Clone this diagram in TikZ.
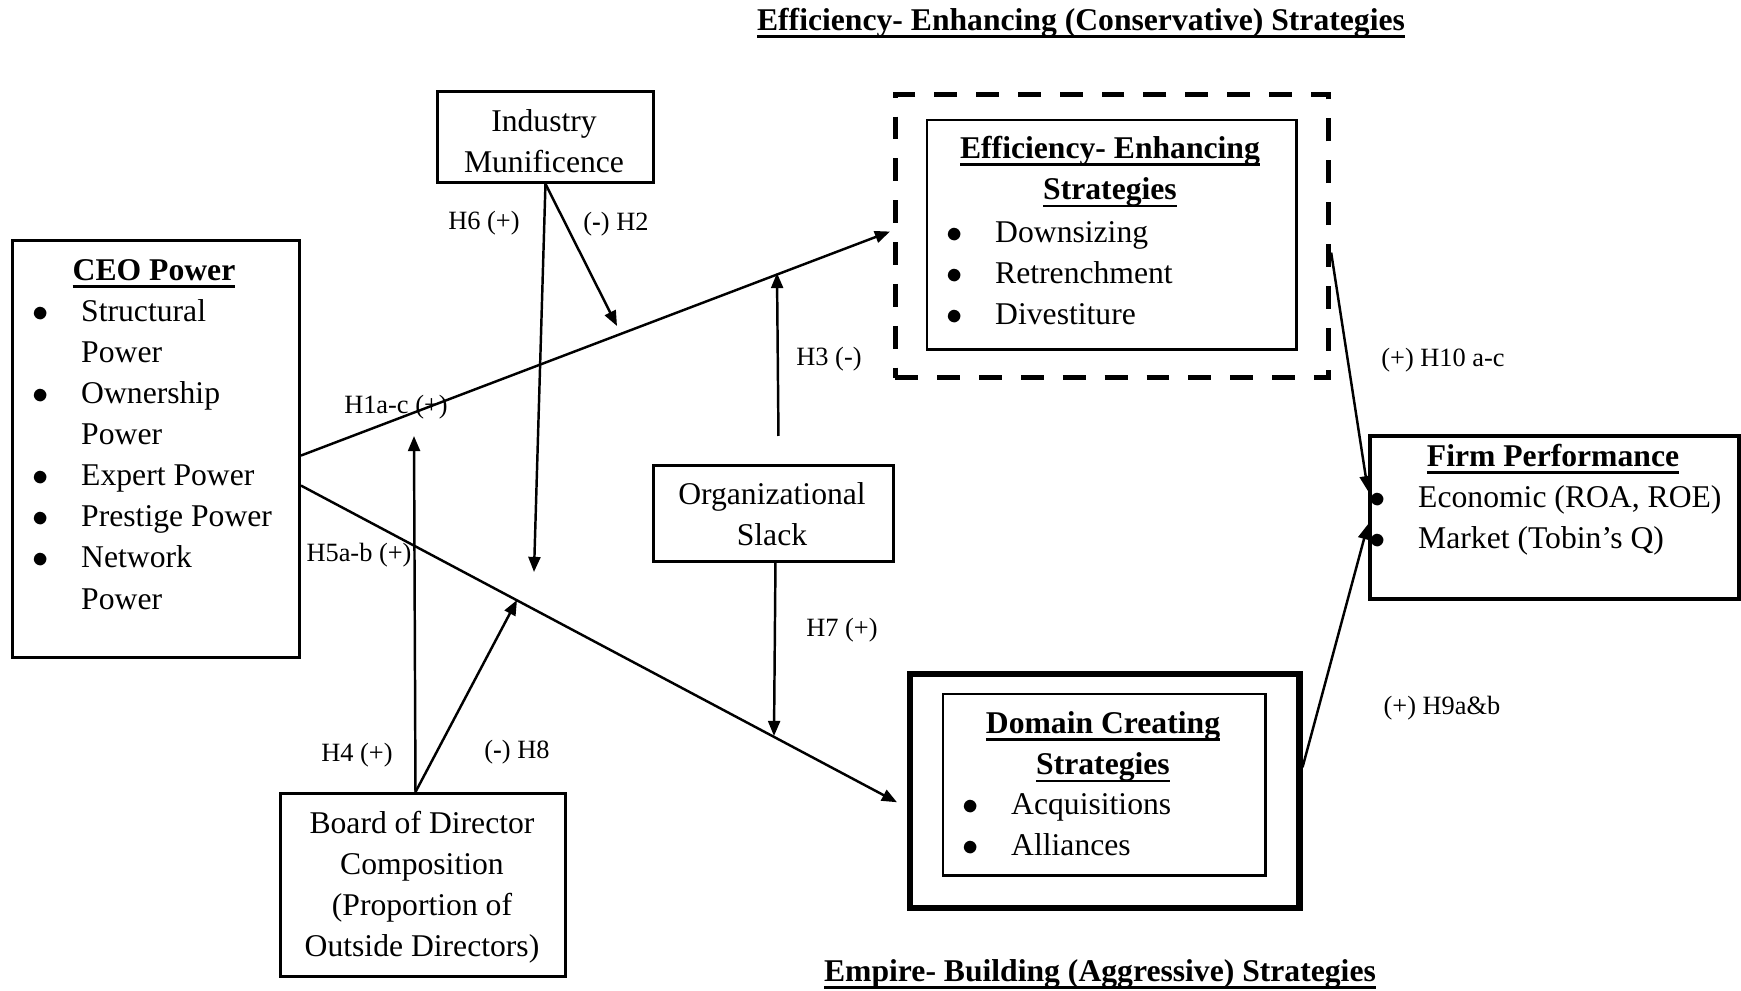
\documentclass[tikz,border=0pt]{standalone}
\usepackage{fontspec}
\setmainfont{Liberation Serif}
\usetikzlibrary{arrows.meta}

\newsavebox\hdbox
\newcommand{\hd}[1]{\sbox\hdbox{\textbf{#1}}\rlap{\usebox\hdbox}\rule[-2.2pt]{\wd\hdbox}{0.65pt}}
\newcommand{\bul}{\makebox[0.485cm][l]{$\bullet$}}
\newcommand{\indt}{\hspace*{0.485cm}}

\begin{document}
\begin{tikzpicture}[x=0.01cm, y=-0.01cm,
    block/.style={draw, line width=0.8pt, inner sep=0pt, anchor=north west},
    txt/.style={inner sep=0pt, font=\fontsize{9}{11.7}\selectfont},
    lbl/.style={inner sep=0pt, font=\fontsize{7.5}{9}\selectfont},
    arr/.style={line width=0.7pt, -{Triangle[length=4.3pt, width=3.4pt]}}]

            \useasboundingbox (0,0) rectangle (1741,990);

            \node[block, minimum width=2.87cm, minimum height=4.17cm] (ceo) at (11,239) {};
            \node[block, minimum width=2.16cm, minimum height=0.91cm] (ind) at (436,90) {};
            \node[block, minimum width=2.40cm, minimum height=0.96cm] (org) at (652,464) {};
            \node[block, minimum width=2.85cm, minimum height=1.83cm] (board) at (279,792) {};
            \node[block, line width=1.4pt, dash pattern=on 6.5pt off 5.4pt,
                  minimum width=4.33cm, minimum height=2.83cm] (effout) at (893,92) {};
            \node[block, line width=0.7pt, minimum width=3.69cm, minimum height=2.29cm] (effin) at (926,119) {};
            \node[block, line width=1.8pt, minimum width=3.89cm, minimum height=2.34cm] (domout) at (907,671) {};
            \node[block, line width=0.7pt, minimum width=3.22cm, minimum height=1.81cm] (domin) at (942,693) {};
            \node[block, line width=1.2pt, minimum width=3.69cm, minimum height=1.63cm] (firm) at (1368,434) {};

            \node[txt, anchor=base] (toptitle) at (1081,30) {\hd{Efficiency- Enhancing (Conservative) Strategies}};
            \node[txt, anchor=base] (bottitle) at (1100,981) {\hd{Empire- Building (Aggressive) Strategies}};

            \node[txt, anchor=base] (ceohd) at (154,280) {\hd{CEO Power}};
            \node[txt, anchor=base west] (ceolist) at (32,321) {\begin{tabular}[t]{@{}l@{}}
                \bul Structural\\ \indt Power\\ \bul Ownership\\ \indt Power\\
                \bul Expert Power\\ \bul Prestige Power\\ \bul Network\\ \indt Power\end{tabular}};
            \node[txt, anchor=base] (indtxt) at (544,131) {\begin{tabular}[t]{@{}c@{}}Industry\\ Munificence\end{tabular}};
            \node[txt, anchor=base] (orgtxt) at (772,504) {\begin{tabular}[t]{@{}c@{}}Organizational\\ Slack\end{tabular}};
            \node[txt, anchor=base] (boardtxt) at (422,833) {\begin{tabular}[t]{@{}c@{}}Board of Director\\ Composition\\
                (Proportion of\\ Outside Directors)\end{tabular}};
            \node[txt, anchor=base] (effhd) at (1110,158) {\begin{tabular}[t]{@{}c@{}}\hd{Efficiency- Enhancing}\\ \hd{Strategies}\end{tabular}};
            \node[txt, anchor=base west] (efflist) at (946,242) {\begin{tabular}[t]{@{}l@{}}
                \bul Downsizing\\ \bul Retrenchment\\ \bul Divestiture\end{tabular}};
            \node[txt, anchor=base] (domhd) at (1103,733) {\begin{tabular}[t]{@{}c@{}}\hd{Domain Creating}\\ \hd{Strategies}\end{tabular}};
            \node[txt, anchor=base west] (domlist) at (962,814) {\begin{tabular}[t]{@{}l@{}}
                \bul Acquisitions\\ \bul Alliances\end{tabular}};
            \node[txt, anchor=base] (firmhd) at (1553,466) {\hd{Firm Performance}};
            \node[txt, anchor=base west] (firmlist) at (1369,507) {\begin{tabular}[t]{@{}l@{}}
                \bul Economic (ROA, ROE)\\ \bul Market (Tobin’s Q)\end{tabular}};

            \coordinate (p2) at (617,326);
            \coordinate (p6) at (534,572);
            \coordinate (p4) at (414,436);
            \coordinate (p8) at (517,600);
            \coordinate (p3) at (777,273);
            \coordinate (p7) at (774,736);

            \draw[arr] ([yshift=-0.065cm]ceo.east) -- ([xshift=-0.03cm,yshift=0.045cm]effout.west);
            \draw[arr] ([yshift=-0.365cm]ceo.east) -- ([xshift=-0.1cm,yshift=-0.11cm]domout.west);
            \foreach \p in {p2,p6}{
                \draw[arr] (ind.south) -- (\p);
            }
            \foreach \p in {p4,p8}{
                \draw[arr] ([xshift=-0.075cm]board.north) -- (\p);
            }
            \draw[arr] ([xshift=0.05cm,yshift=0.28cm]org.north) -- (p3);
            \draw[arr] ([xshift=0.02cm]org.south) -- (p7);
            \draw[arr] ([yshift=-0.165cm]effout.east) -- ([yshift=0.265cm]firm.west);
            \draw[arr] ([yshift=0.24cm]domout.east) -- ([yshift=-0.065cm]firm.west);

            \node[lbl] (l6) at (484,223) {H6 (+)};
            \node[lbl] (l2) at (616,224) {(\textbf{-}) H2};
            \node[lbl] (l1) at (396,407) {H1a-c (+)};
            \node[lbl] (l3) at (829,359) {H3 (-)};
            \node[lbl] (l10) at (1443,360) {(+) H10 a-c};
            \node[lbl] (l5) at (359,555) {H5a-b (+)};
            \node[lbl] (l7) at (842,630) {H7 (+)};
            \node[lbl] (l9) at (1442,708) {(+) H9a\&b};
            \node[lbl] (l4) at (357,755) {H4 (+)};
            \node[lbl] (l8) at (517,752) {(\textbf{-}) H8};
        \end{tikzpicture}
\end{document}
